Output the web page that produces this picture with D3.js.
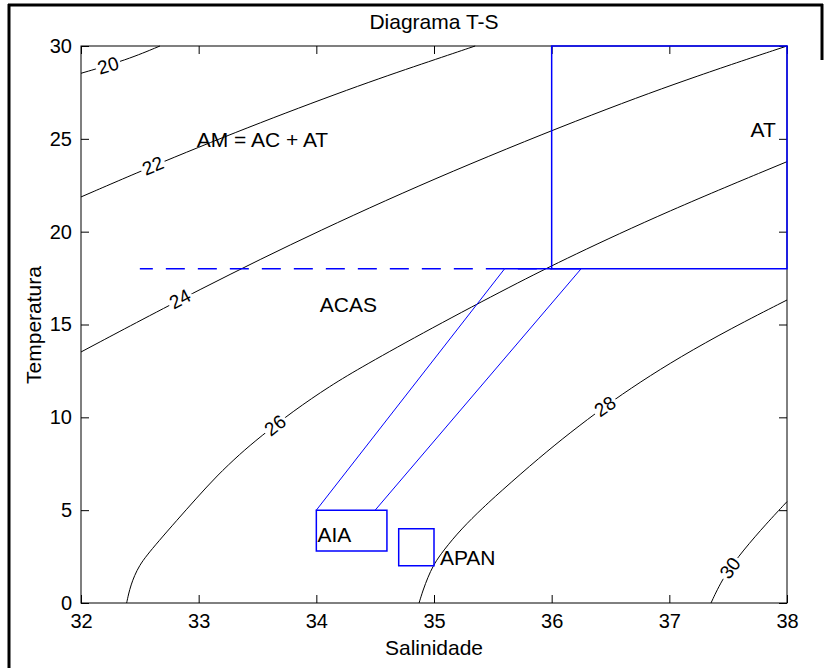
<!DOCTYPE html>
<html><head><meta charset="utf-8">
<script src="https://cdn.jsdelivr.net/npm/d3@7"></script>
<style>
body{margin:0;background:#fff}
text{font-family:"Liberation Sans",Arial,Helvetica,sans-serif;fill:#000}
</style>
</head><body>
<svg id="c" width="829" height="668"></svg>
<script>
// ---- data ----
const salTicks = [32, 33, 34, 35, 36, 37, 38];
const tempTicks = [0, 5, 10, 15, 20, 25, 30];
const contourLevels = [20, 22, 24, 26, 28, 30];
// contour polylines [salinity, temperature]
const c20 = [[32.0, 28.53], [32.388, 29.25], [32.671, 30.0]];
const c22 = [[32.0, 21.87], [32.671, 23.71], [33.521, 25.88], [34.397, 27.96], [34.994, 29.24], [35.35, 30.0]];
const c24 = [[32.0, 13.52], [33.011, 16.92], [34.031, 20.09], [35.136, 23.24], [36.411, 26.50], [37.261, 28.45], [38.0, 30.0]];
const c26 = [[32.388, 0.0], [32.404, 0.485], [32.425, 0.969], [32.455, 1.481], [32.497, 2.020], [32.558, 2.558], [32.654, 3.285], [32.813, 4.443], [32.983, 5.655], [33.153, 6.84], [33.351, 8.03], [33.521, 8.94], [33.804, 10.34], [34.116, 11.69], [34.399, 12.76], [34.966, 14.76], [35.674, 17.13], [36.156, 18.66], [36.977, 21.08], [38.0, 23.77]];
const c28 = [[34.873, 0.0], [34.907, 0.70], [34.949, 1.40], [34.992, 1.993], [35.051, 2.585], [35.193, 3.716], [35.363, 4.82], [35.561, 5.978], [35.901, 7.86], [36.156, 9.17], [36.453, 10.60], [36.751, 11.90], [37.091, 13.25], [37.516, 14.76], [38.0, 16.32]];
const c30 = [[37.354, 0.0], [37.459, 1.42], [37.629, 2.85], [37.827, 4.29], [38.0, 5.46]];
const contours = [c20, c22, c24, c26, c28, c30];
// inline label positions [salinity, temperature]
const labelPos = [[32.23, 28.96], [32.61, 23.55], [32.841, 16.38], [33.649, 9.57], [36.453, 10.60], [37.515, 1.89]];

// water mass regions
const boxAT = [[36, 18], [38, 18], [38, 30], [36, 30]];
const boxAIA = [[34, 2.8], [34.6, 2.8], [34.6, 5], [34, 5]];
const boxAPAN = [[34.7, 2], [35, 2], [35, 4], [34.7, 4]];
const acasLeft = [[34, 5], [35.6, 18]];
const acasRight = [[34.5, 5], [36.25, 18]];
const acasTop = [[35.6, 18], [36.25, 18]];
const dashed18 = [[32.5, 18], [36, 18]];
const annotations = [
  {text: "AM = AC + AT", s: 32.983, t: 24.58},
  {text: "AT", s: 37.69, t: 25.10},
  {text: "ACAS", s: 34.03, t: 15.67},
  {text: "AIA", s: 34.01, t: 3.30},
  {text: "APAN", s: 35.05, t: 2.05}
];
const titleText = "Diagrama T-S";
const xLabel = "Salinidade";
const yLabel = "Temperatura";

// ---- drawing ----
const svg = d3.select("#c");
const x = d3.scaleLinear().domain([32, 38]).range([81, 787]);
const y = d3.scaleLinear().domain([0, 30]).range([603, 46]);
const blue = "#0000ff";

// figure frame
svg.append("line").attr("x1", 9).attr("x2", 9).attr("y1", 4).attr("y2", 668).attr("stroke", "#000").attr("stroke-width", 3);
svg.append("line").attr("x1", 8).attr("x2", 823).attr("y1", 5).attr("y2", 5).attr("stroke", "#000").attr("stroke-width", 3);
svg.append("line").attr("x1", 822).attr("x2", 822).attr("y1", 4).attr("y2", 60).attr("stroke", "#000").attr("stroke-width", 3);

const line = d3.line().x(d => x(d[0])).y(d => y(d[1])).curve(d3.curveBasis);
const straight = d3.line().x(d => x(d[0])).y(d => y(d[1]));

const cg = svg.append("g");
contours.forEach(c => {
  cg.append("path").attr("d", line(c)).attr("fill", "none").attr("stroke", "#000").attr("stroke-width", 1);
});

// contour labels with gap
contours.forEach((c, i) => {
  const p = labelPos[i];
  const px = x(p[0]), py = y(p[1]);
  let best = 0, bd = Infinity;
  for (let k = 0; k < c.length - 1; k++) {
    const mx = (x(c[k][0]) + x(c[k + 1][0])) / 2, my = (y(c[k][1]) + y(c[k + 1][1])) / 2;
    const dd = (mx - px) ** 2 + (my - py) ** 2;
    if (dd < bd) { bd = dd; best = k; }
  }
  const a = Math.atan2(y(c[best + 1][1]) - y(c[best][1]), x(c[best + 1][0]) - x(c[best][0])) * 180 / Math.PI;
  const g = cg.append("g").attr("transform", `translate(${px},${py}) rotate(${a})`);
  const r = g.append("rect").attr("fill", "#fff");
  const t = g.append("text").attr("text-anchor", "middle").attr("dy", "0.35em").style("font-size", "19px").text(contourLevels[i]);
  const w = t.node().getComputedTextLength();
  r.attr("x", -w / 2 - 2).attr("y", -7).attr("width", w + 4).attr("height", 14);
});

// blue water masses
const bg = svg.append("g").attr("fill", "none").attr("stroke", blue);
bg.append("path").attr("d", straight(dashed18)).attr("stroke-width", 1.5).attr("stroke-dasharray", "19,13").attr("stroke-dashoffset", 6);
bg.append("path").attr("d", straight(acasLeft)).attr("stroke-width", 1);
bg.append("path").attr("d", straight(acasRight)).attr("stroke-width", 1);
bg.append("path").attr("d", straight(acasTop)).attr("stroke-width", 1.5);
[boxAIA, boxAPAN].forEach(b => bg.append("path").attr("d", straight(b) + "Z").attr("stroke-width", 1.5));

// axes box
svg.append("rect").attr("x", 81).attr("y", 46).attr("width", 706).attr("height", 557).attr("fill", "none").attr("stroke", "#000").attr("stroke-width", 1);
bg.append("path").attr("d", straight(boxAT) + "Z").attr("stroke-width", 1.5);

const fs = "20px";
const axB = svg.append("g").attr("transform", "translate(0,603)")
  .call(d3.axisBottom(x).tickValues(salTicks).tickSizeInner(-8).tickSizeOuter(0).tickPadding(11).tickFormat(d3.format("d")));
const axL = svg.append("g").attr("transform", "translate(81,0)")
  .call(d3.axisLeft(y).tickValues(tempTicks).tickSizeInner(-8).tickSizeOuter(0).tickPadding(9).tickFormat(d3.format("d")));
const axT = svg.append("g").attr("transform", "translate(0,46)")
  .call(d3.axisTop(x).tickValues(salTicks).tickSizeInner(-8).tickSizeOuter(0).tickFormat(""));
const axR = svg.append("g").attr("transform", "translate(787,0)")
  .call(d3.axisRight(y).tickValues(tempTicks).tickSizeInner(-8).tickSizeOuter(0).tickFormat(""));
[axB, axL, axT, axR].forEach(a => {
  a.select(".domain").remove();
  a.selectAll("line").attr("stroke", "#000");
  a.selectAll("text").style("font-size", fs).attr("fill", "#000").style("font-family", '"Liberation Sans",Arial,sans-serif');
});
bg.raise();

// annotations
svg.append("g").selectAll("text").data(annotations).join("text")
  .attr("x", d => x(d.s)).attr("y", d => y(d.t)).style("font-size", "21px").text(d => d.text);

// titles
svg.append("text").attr("x", 434).attr("y", 29).attr("text-anchor", "middle").style("font-size", "21px").text(titleText);
svg.append("text").attr("x", 434).attr("y", 655).attr("text-anchor", "middle").style("font-size", "21px").text(xLabel);
svg.append("text").attr("transform", "translate(41,325) rotate(-90)").attr("text-anchor", "middle").style("font-size", "21px").text(yLabel);
</script>
</body></html>
